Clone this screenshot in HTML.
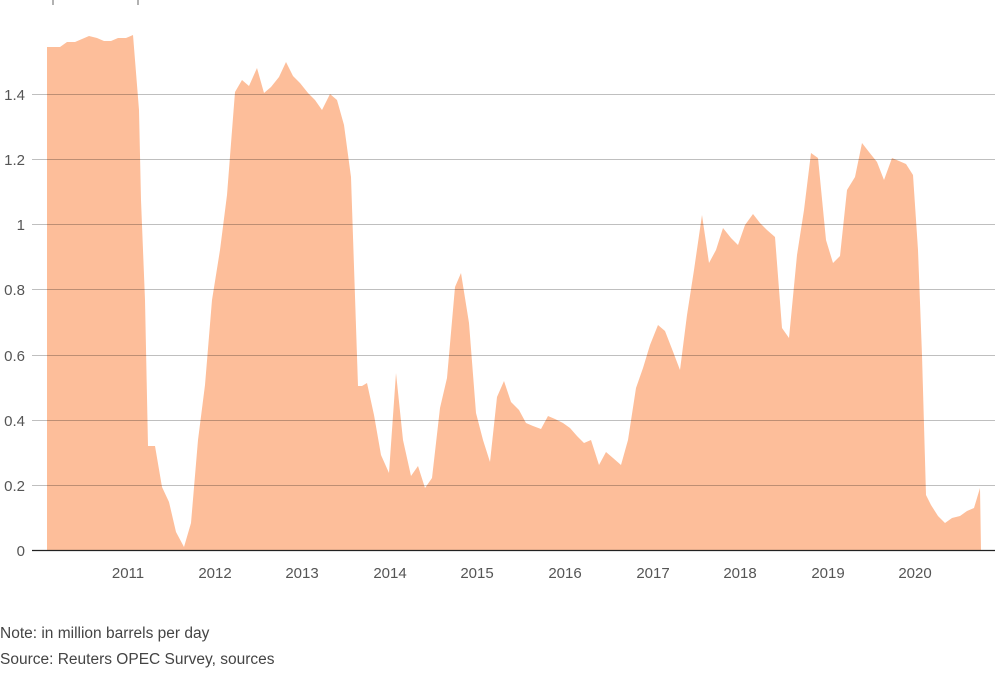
<!DOCTYPE html><html><head><meta charset="utf-8"><style>body{margin:0;background:#fff;font-family:"Liberation Sans",sans-serif}</style></head><body>
<svg width="1000" height="676" xmlns="http://www.w3.org/2000/svg" font-family="Liberation Sans, sans-serif">
<line x1="53" y1="0" x2="53" y2="5" stroke="#666"/><line x1="138" y1="0" x2="138" y2="5" stroke="#666"/>
<polygon fill="#fdbe9a" points="47,550 47,47 60,47 67,42 75,42 82,39 89,36 97,38 104,41 111,41 118,38 126,38 133,35 139,110 141,200 145,300 148,446 155,446 162,487 169,502 176,532 184,547 191,523 198,440 205,385 212,300 220,250 227,195 235,92 242,80 249,86 257,68 264,93 271,87 279,77 286,62 293,76 300,83 308,93 315,100 322,110 330,94 337,100 344,125 351,177 358,386 362,386 367,383 374,415 381,455 389,473 396,373 403,440 411,476 418,466 425,488 432,478 440,408 447,378 455,287 461,273 469,323 476,413 483,440 490,462 497,397 504,381 511,402 519,410 526,423 533,426 541,429 548,416 555,419 563,423 570,428 577,436 584,443 591,440 599,465 606,452 613,458 621,465 628,440 636,388 643,368 650,345 658,325 665,331 672,349 680,370 687,315 694,270 702,215 709,263 716,250 723,228 731,238 738,245 745,225 753,214 760,223 767,230 775,237 782,328 789,338 797,255 804,210 811,153 818,158 826,240 833,263 840,256 847,190 855,177 862,143 869,152 877,162 884,180 892,158 899,161 906,164 913,175 918,250 922,355 926,495 931,505 938,516 945,523 952,518 960,516 967,511 974,508 980,488 981,550"/>
<g stroke="#000" stroke-opacity="0.25" stroke-width="1">
<line x1="32" y1="94.5" x2="995" y2="94.5"/><line x1="32" y1="159.5" x2="995" y2="159.5"/><line x1="32" y1="224.5" x2="995" y2="224.5"/><line x1="32" y1="289.5" x2="995" y2="289.5"/><line x1="32" y1="355.5" x2="995" y2="355.5"/><line x1="32" y1="420.5" x2="995" y2="420.5"/><line x1="32" y1="485.5" x2="995" y2="485.5"/>
</g>
<line x1="32" y1="550.5" x2="995" y2="550.5" stroke="#222" stroke-width="1.2"/>
<g fill="#555" font-size="15" text-anchor="end">
<text x="25" y="100">1.4</text><text x="25" y="165">1.2</text><text x="25" y="230">1</text><text x="25" y="295">0.8</text><text x="25" y="361">0.6</text><text x="25" y="426">0.4</text><text x="25" y="491">0.2</text><text x="25" y="556">0</text>
</g>
<g fill="#555" font-size="15" text-anchor="middle">
<text x="128" y="578">2011</text><text x="215" y="578">2012</text><text x="302" y="578">2013</text><text x="390" y="578">2014</text><text x="477" y="578">2015</text><text x="565" y="578">2016</text><text x="653" y="578">2017</text><text x="740" y="578">2018</text><text x="828" y="578">2019</text><text x="915" y="578">2020</text>
</g>
<g fill="#444" font-size="15.5">
<text x="0" y="638">Note: in million barrels per day</text>
<text x="0" y="664">Source: Reuters OPEC Survey, sources</text>
</g>
</svg></body></html>
